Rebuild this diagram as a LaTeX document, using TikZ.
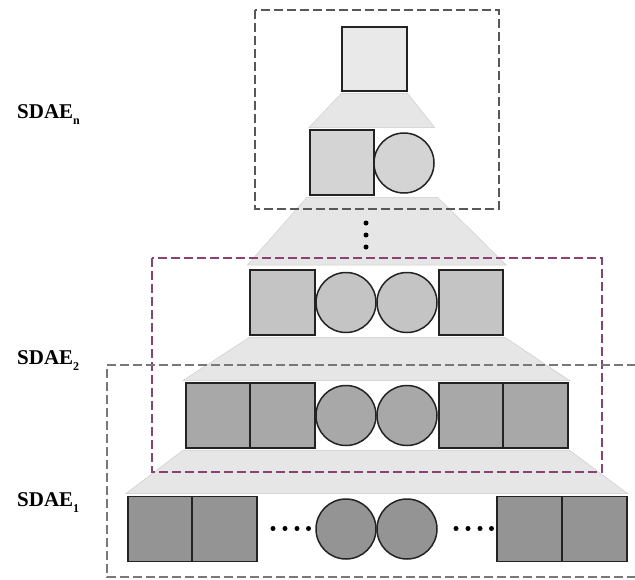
\documentclass[tikz,border=0pt]{standalone}
\usepackage{fontspec}
\setmainfont{Liberation Serif}
\usetikzlibrary{calc,backgrounds}
\definecolor{fillA}{RGB}{233,233,233}
\definecolor{fillB}{RGB}{212,212,212}
\definecolor{fillC}{RGB}{196,196,196}
\definecolor{fillD}{RGB}{168,168,168}
\definecolor{fillE}{RGB}{148,148,148}
\definecolor{trapfill}{RGB}{230,230,230}
\definecolor{trapline}{RGB}{205,205,205}
\definecolor{edgecol}{RGB}{35,35,35}
\definecolor{boxgray}{RGB}{88,88,88}
\definecolor{boxlight}{RGB}{120,120,120}
\definecolor{boxpurple}{RGB}{135,68,115}
\tikzset{
  sqbox/.style={rectangle, draw=edgecol, line width=1.8pt, minimum width=64.5pt, minimum height=65pt, inner sep=0pt},
  circbox/.style={circle, draw=edgecol, line width=1.5pt, minimum size=60pt, inner sep=0pt},
  trap/.style={fill=trapfill, draw=trapline, line width=0.5pt},
  frame/.style={dash pattern=on 9pt off 4pt, line width=2.5pt},
  lbl/.style={anchor=base west, inner sep=0pt, font=\fontsize{21}{24}\selectfont\bfseries},
  dot/.style={circle, fill=black, inner sep=0pt, minimum size=5pt}
}
\newcommand{\subsc}[1]{\raisebox{-0.3em}{\fontsize{12}{12}\selectfont\bfseries #1}}
\begin{document}
\begin{tikzpicture}[x=1pt, y=-1pt]
\useasboundingbox (0,0) rectangle (635,579);
% row nodes
\node[sqbox, fill=fillA, minimum height=64pt] (s1) at (374.5,59) {};
\node[sqbox, fill=fillB] (s2a) at (342,162.5) {};
\node[circbox, fill=fillB] (c2a) at (404,163) {};
\node[sqbox, fill=fillC] (s3a) at (282.5,302.5) {};
\node[circbox, fill=fillC] (c3a) at (346,302.5) {};
\node[circbox, fill=fillC] (c3b) at (407,302.5) {};
\node[sqbox, fill=fillC] (s3b) at (471,302.5) {};
\node[sqbox, fill=fillD] (s4a) at (218,415.5) {};
\node[sqbox, fill=fillD] (s4b) at (282.5,415.5) {};
\node[circbox, fill=fillD] (c4a) at (346,415.5) {};
\node[circbox, fill=fillD] (c4b) at (407,415.5) {};
\node[sqbox, fill=fillD] (s4c) at (471,415.5) {};
\node[sqbox, fill=fillD] (s4d) at (535.5,415.5) {};
\node[sqbox, fill=fillE] (s5a) at (160,529) {};
\node[sqbox, fill=fillE] (s5b) at (224.5,529) {};
\node[circbox, fill=fillE] (c5a) at (346,529) {};
\node[circbox, fill=fillE] (c5b) at (407,529) {};
\node[sqbox, fill=fillE] (s5c) at (529.5,529) {};
\node[sqbox, fill=fillE] (s5d) at (594.5,529) {};
% trapezoids between layers, behind the nodes
\begin{scope}[on background layer]
\fill[trap] ($(s1.south west)+(0,1.5)$) -- ($(s1.south east)+(0,1.5)$) -- ($(c2a.east |- s2a.north)+(0,-1.5)$) -- ($(s2a.north west)+(0,-1.5)$) -- cycle;
\fill[trap] ($(s2a.south west)+(-2,1.5)$) -- ($(c2a.east |- s2a.south)+(3,1.5)$) -- ($(s3b.north east)+(2,-4)$) -- ($(s3a.north west)+(-2,-4)$) -- cycle;
\fill[trap] ($(s3a.south west)+(0,1.5)$) -- ($(s3b.south east)+(1,1.5)$) -- ($(s4d.north east)+(1,-1.5)$) -- ($(s4a.north west)+(-2,-1.5)$) -- cycle;
\fill[trap] ($(s4a.south west)+(-2,1.5)$) -- ($(s4d.south east)+(1,1.5)$) -- ($(s5d.north east)+(0,-2)$) -- ($(s5a.north west)+(-1,-2)$) -- cycle;
\end{scope}
% vertical dots
\node[dot] (v1) at (366,223) {};
\node[dot] (v2) at (366,235) {};
\node[dot] (v3) at (366,247) {};
% horizontal dots
\foreach \i/\xx in {1/273,2/285,3/297,4/308.5} {\node[dot] (hl\i) at (\xx,528.5) {};}
\foreach \i/\xx in {1/456,2/468,3/480,4/491.5} {\node[dot] (hr\i) at (\xx,528.5) {};}
% frames
\draw[frame, boxgray] (255,10) rectangle (499,209);
\draw[frame, boxpurple] (152,258) rectangle (602,472);
\draw[frame, boxlight] (636,365) -- (107,365) -- (107,577) -- (636,577);
% labels
\node[lbl] (lbln) at (17,118) {SDAE\subsc{n}};
\node[lbl] (lbl2) at (17,364) {SDAE\subsc{2}};
\node[lbl] (lbl1) at (17,506) {SDAE\subsc{1}};
\end{tikzpicture}
\end{document}
